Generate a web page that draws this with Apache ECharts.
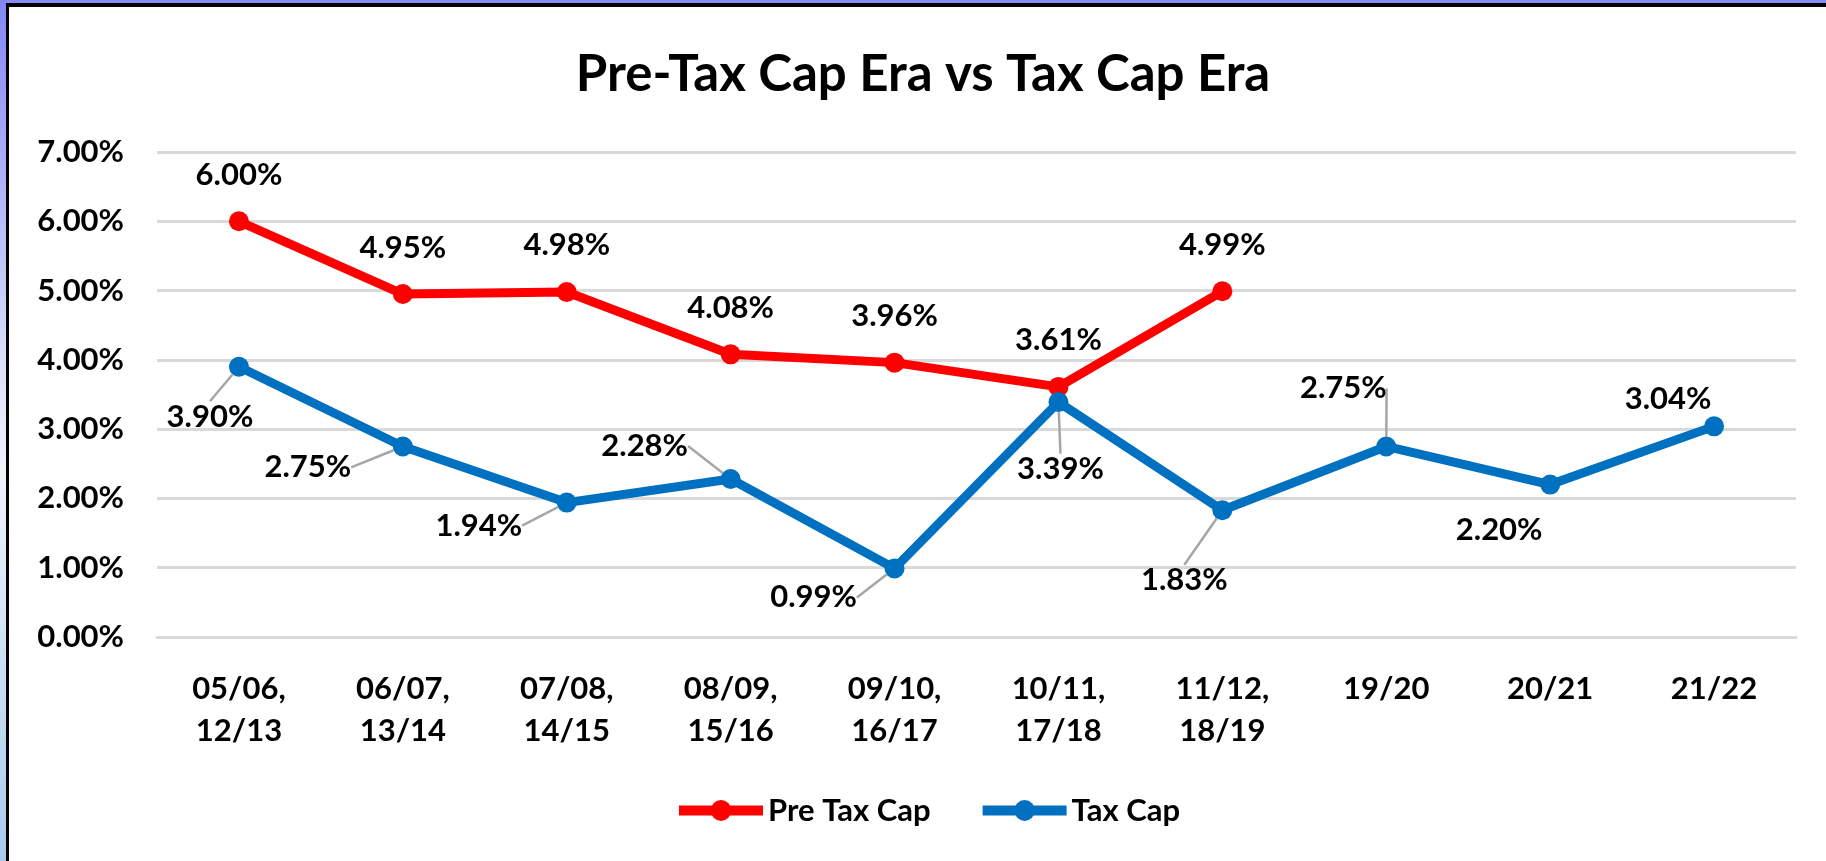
<!DOCTYPE html>
<html>
<head>
<meta charset="utf-8">
<script src="https://cdn.jsdelivr.net/npm/echarts@6/dist/echarts.min.js"></script>
<style>
  html, body { margin: 0; padding: 0; background: #fff; }
  #chart { position: absolute; left: 0; top: 0; width: 1826px; height: 861px; }
  .edge { position: absolute; pointer-events: none; }
</style>
</head>
<body>
<div id="chart"></div>
<div class="edge" style="left:0;top:0;width:1826px;height:3px;background:#8a8cf6"></div>
<div class="edge" style="left:0;top:3px;width:1826px;height:4px;background:#000"></div>
<div class="edge" style="left:0;top:0;width:6px;height:861px;background:linear-gradient(#8486f4,#dfe6fa 45%,#eef3fc 55%,#a9c9ec)"></div>
<div class="edge" style="left:6px;top:3px;width:3px;height:858px;background:#000"></div>
<script>
// categories (school years)
var categories = [
  "05/06,\n12/13", "06/07,\n13/14", "07/08,\n14/15", "08/09,\n15/16",
  "09/10,\n16/17", "10/11,\n17/18", "11/12,\n18/19", "19/20", "20/21", "21/22"
];
// values in percent
var preTaxCap = [6.00, 4.95, 4.98, 4.08, 3.96, 3.61, 4.99, null, null, null];
var taxCap = [3.90, 2.75, 1.94, 2.28, 0.99, 3.39, 1.83, 2.75, 2.20, 3.04];
var yTicks = [0, 1, 2, 3, 4, 5, 6, 7];

// label placement for the Tax Cap series (moved like in the original, px from the point)
var taxLabelShift = [
  [-29, 50], [-95, 21], [-88, 23], [-86, -33], [-81, 29],
  [2, 67], [-38, 70], [-43, -58], [-51, 45], [-46, -27]
];
var taxLeader = [true, true, true, true, true, true, true, true, false, false];

var FONT = "Lato";
var LABEL_SIZE = 31;
var chart = echarts.init(document.getElementById("chart"));

var option = {
  animation: false,
  backgroundColor: "#fff",
  title: {
    text: "Pre-Tax Cap Era vs Tax Cap Era",
    left: 918,
    textAlign: "center",
    top: 44,
    textStyle: { fontFamily: FONT, fontWeight: "bold", fontSize: 51, color: "#000" }
  },
  legend: {
    left: 669,
    top: 790,
    itemWidth: 84,
    itemHeight: 26,
    itemGap: 47,
    lineStyle: { width: 10 },
    textStyle: { fontFamily: FONT, fontWeight: "bold", fontSize: LABEL_SIZE, color: "#000" },
    data: ["Pre Tax Cap", "Tax Cap"]
  },
  grid: { left: 157, right: 30, top: 152, bottom: 224, containLabel: false },
  xAxis: {
    type: "category",
    data: categories,
    axisTick: { show: false },
    axisLine: { show: true, lineStyle: { color: "#d9d9d9", width: 3 } },
    axisLabel: {
      fontFamily: FONT, fontWeight: "bold", fontSize: LABEL_SIZE, color: "#000",
      lineHeight: 42, margin: 31, interval: 0
    }
  },
  yAxis: {
    type: "value",
    min: yTicks[0],
    max: yTicks[yTicks.length - 1],
    interval: 1,
    axisLine: { show: false },
    axisTick: { show: false },
    splitLine: { lineStyle: { color: "#d9d9d9", width: 3 } },
    axisLabel: {
      fontFamily: FONT, fontWeight: "bold", fontSize: LABEL_SIZE, color: "#000", margin: 33,
      formatter: function (v) { return v.toFixed(2) + "%"; }
    }
  },
  series: [
    {
      name: "Pre Tax Cap",
      type: "line",
      data: preTaxCap,
      symbol: "circle",
      symbolSize: 20,
      color: "#ff0000",
      lineStyle: { color: "#ff0000", width: 9 },
      itemStyle: { color: "#ff0000" },
      label: {
        show: true, position: "top", distance: 21,
        fontFamily: FONT, fontWeight: "bold", fontSize: LABEL_SIZE, color: "#000",
        formatter: function (p) { return p.value.toFixed(2) + "%"; }
      }
    },
    {
      name: "Tax Cap",
      type: "line",
      data: taxCap.map(function (v, i) {
        return { value: v, labelLine: { show: taxLeader[i] } };
      }),
      symbol: "circle",
      symbolSize: 20,
      color: "#0070c0",
      lineStyle: { color: "#0070c0", width: 9 },
      itemStyle: { color: "#0070c0" },
      label: {
        show: true, position: "inside",
        fontFamily: FONT, fontWeight: "bold", fontSize: LABEL_SIZE, color: "#000",
        formatter: function (p) { return p.value.toFixed(2) + "%"; }
      },
      labelLine: { show: true, lineStyle: { color: "#a6a6a6", width: 2.5 } },
      labelLayout: function (params) {
        var s = taxLabelShift[params.dataIndex];
        return { dx: s[0], dy: s[1] };
      }
    }
  ]
};

chart.setOption(option);
</script>
</body>
</html>
